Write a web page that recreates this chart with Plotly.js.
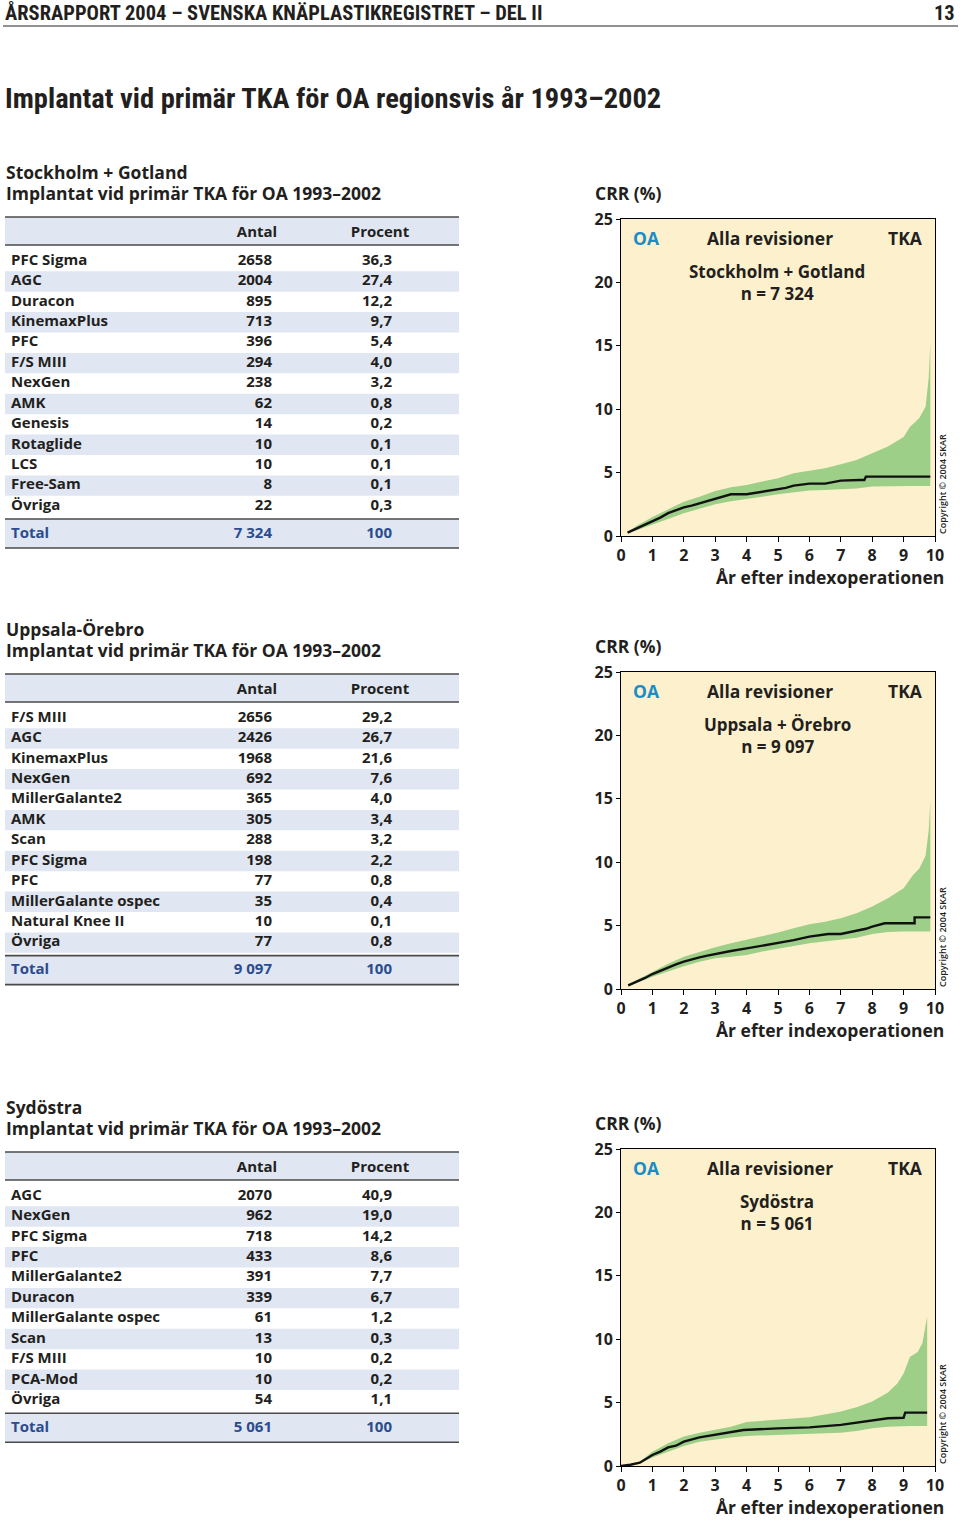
<!DOCTYPE html>
<html><head><meta charset="utf-8">
<script src="https://cdn.plot.ly/plotly-3.0.1.min.js"></script>
<style>html,body{margin:0;padding:0;background:#fff}</style>
</head><body>
<div id="chart" style="width:960px;height:1520px"></div>
<script>
// ---------------- DATA ----------------
const pageHeader = "ÅRSRAPPORT 2004 – SVENSKA KNÄPLASTIKREGISTRET – DEL II";
const pageNumber = "13";
const pageTitle = "Implantat vid primär TKA för OA regionsvis år 1993–2002";
const tableSubtitle = "Implantat vid primär TKA för OA 1993–2002";
const colHeaders = ["Antal", "Procent"];
const totalLabel = "Total";

const regions = ["Stockholm + Gotland", "Uppsala-Örebro", "Sydöstra"];
const chartRegions = ["Stockholm + Gotland", "Uppsala + Örebro", "Sydöstra"];

const names1 = ["PFC Sigma","AGC","Duracon","KinemaxPlus","PFC","F/S MIII","NexGen","AMK","Genesis","Rotaglide","LCS","Free-Sam","Övriga"];
const antal1 = [2658,2004,895,713,396,294,238,62,14,10,10,8,22];
const procent1 = [36.3,27.4,12.2,9.7,5.4,4.0,3.2,0.8,0.2,0.1,0.1,0.1,0.3];
const total1 = 7324;

const names2 = ["F/S MIII","AGC","KinemaxPlus","NexGen","MillerGalante2","AMK","Scan","PFC Sigma","PFC","MillerGalante ospec","Natural Knee II","Övriga"];
const antal2 = [2656,2426,1968,692,365,305,288,198,77,35,10,77];
const procent2 = [29.2,26.7,21.6,7.6,4.0,3.4,3.2,2.2,0.8,0.4,0.1,0.8];
const total2 = 9097;

const names3 = ["AGC","NexGen","PFC Sigma","PFC","MillerGalante2","Duracon","MillerGalante ospec","Scan","F/S MIII","PCA-Mod","Övriga"];
const antal3 = [2070,962,718,433,391,339,61,13,10,10,54];
const procent3 = [40.9,19.0,14.2,8.6,7.7,6.7,1.2,0.3,0.2,0.2,1.1];
const total3 = 5061;

// CRR curves (years after index operation, %)
const bandX1 = [0.21,0.5,1,1.5,2,2.5,3,3.5,4,4.5,5,5.5,6,6.5,7,7.5,8,8.5,9,9.2,9.5,9.7,9.8,9.85];
const upper1 = [0.3,0.8,1.5,2.1,2.7,3.1,3.55,3.84,4.03,4.29,4.55,4.95,5.16,5.34,5.66,6.0,6.53,7.05,7.8,8.6,9.3,10.2,12.5,15.2];
const lower1 = [0.2,0.45,0.87,1.35,1.8,2.15,2.5,2.75,2.9,3.1,3.3,3.45,3.58,3.62,3.68,3.75,3.9,3.94,3.95,3.95,3.95,3.95,3.95,3.95];
const lineX1 = [0.21,0.5,0.75,1,1.25,1.5,1.75,2,2.25,2.5,2.75,3,3.25,3.5,4,4.25,4.5,4.75,5,5.25,5.5,5.75,6,6.5,6.8,7,7.6,7.75,7.8,9.85];
const lineY1 = [0.26,0.6,0.9,1.13,1.45,1.8,2.05,2.26,2.4,2.58,2.75,2.95,3.1,3.29,3.29,3.4,3.5,3.6,3.68,3.8,3.97,4.05,4.13,4.13,4.25,4.37,4.42,4.42,4.68,4.68];

const bandX2 = [0.23,0.5,1,1.5,2,2.5,3,3.5,4,4.5,5,5.5,6,6.5,7,7.5,8,8.5,9,9.3,9.5,9.7,9.8,9.85];
const upper2 = [0.35,0.7,1.37,2.0,2.55,2.95,3.29,3.6,3.87,4.15,4.45,4.8,5.1,5.3,5.58,5.97,6.5,7.16,7.95,9.0,9.5,10.5,12.5,14.8];
const lower2 = [0.2,0.5,0.97,1.4,1.8,2.15,2.42,2.55,2.68,2.95,3.2,3.4,3.6,3.75,3.87,4.05,4.34,4.5,4.53,4.53,4.53,4.53,4.53,4.53];
const lineX2 = [0.23,0.5,0.75,1,1.25,1.5,1.75,2,2.25,2.5,2.75,3,3.5,4,4.5,5,5.5,6,6.6,7,7.5,7.8,8,8.4,9.35,9.35,9.85];
const lineY2 = [0.29,0.55,0.85,1.18,1.45,1.7,1.95,2.16,2.35,2.5,2.63,2.76,3.0,3.2,3.42,3.6,3.85,4.13,4.34,4.34,4.6,4.75,4.92,5.18,5.18,5.65,5.65];

const bandX3 = [0,0.3,0.6,1,1.5,2,2.5,3,3.5,4,5,6,7,7.5,8,8.5,8.8,9,9.2,9.45,9.6,9.75];
const upper3 = [0,0.1,0.34,1.13,1.79,2.32,2.63,2.84,3.1,3.47,3.68,3.84,4.29,4.63,5.08,5.79,6.5,7.3,8.6,9.0,9.7,11.8];
const lower3 = [0,0.05,0.2,0.68,1.13,1.58,1.92,2.1,2.25,2.37,2.45,2.53,2.63,2.76,2.97,3.1,3.14,3.16,3.16,3.16,3.16,3.16];
const lineX3 = [0,0.3,0.6,0.75,1,1.25,1.5,1.75,2,2.5,3,3.5,3.9,5,6,7,7.3,7.5,8,8.5,9.0,9.05,9.75];
const lineY3 = [0,0.1,0.26,0.5,0.87,1.13,1.47,1.6,1.92,2.26,2.45,2.63,2.84,2.97,3.05,3.24,3.35,3.42,3.63,3.76,3.8,4.21,4.21];

const xTickVals = [0,1,2,3,4,5,6,7,8,9,10];
const yTickVals = [0,5,10,15,20,25];
const yLabel = "CRR (%)";
const xLabel = "År efter indexoperationen";
const chartTags = ["OA", "Alla revisioner", "TKA"];
const copyright = "Copyright © 2004 SKAR";

// ---------------- STYLE / LAYOUT ----------------
const W = 960, H = 1520;
const FONT = "Open Sans, Noto Sans, DejaVu Sans, sans-serif";
const NARROW = "Liberation Sans Narrow, Roboto Condensed, DejaVu Sans Condensed, sans-serif";
const TXT = "#231f20";
const BLUE_T = "#2c4c8e";
const SHADE = "#e0e6f2";
const RULE = "#4a4a4a";
const CREAM = "#fdf0cd";
const GREEN = "#9dcf88";
const OA_BLUE = "#1a8cc6";

const fmtN = n => String(n).replace(/\B(?=(\d{3})+(?!\d))/g, " ");
const fmtP = p => p.toFixed(1).replace(".", ",");

const tables = [
  {T: 217, names: names1, antal: antal1, procent: procent1, total: total1},
  {T: 674, names: names2, antal: antal2, procent: procent2, total: total2},
  {T: 1152, names: names3, antal: antal3, procent: procent3, total: total3}
];
const charts = [
  {top: 219, bottom: 536, bx: bandX1, up: upper1, lo: lower1, lx: lineX1, ly: lineY1, n: total1},
  {top: 672, bottom: 989, bx: bandX2, up: upper2, lo: lower2, lx: lineX2, ly: lineY2, n: total2},
  {top: 1149, bottom: 1466, bx: bandX3, up: upper3, lo: lower3, lx: lineX3, ly: lineY3, n: total3}
];
const TX0 = 5, TX1 = 459, ROWH = 20.42;
const COL_NAME = 11, COL_ANTAL = 272, COL_PROC = 392, HEAD_ANTAL = 257, HEAD_PROC = 380;
const CX0 = 621, CX1 = 935;

const traces = [];
const shapes = [];
const annotations = [];
const layout = {
  width: W, height: H,
  margin: {l: 0, r: 0, t: 0, b: 0},
  paper_bgcolor: "#ffffff",
  plot_bgcolor: "rgba(0,0,0,0)",
  showlegend: false,
  barmode: "overlay",
  font: {family: FONT, color: TXT},
  xaxis4: {domain: [0, 1], range: [0, W], visible: false, fixedrange: true},
  yaxis4: {domain: [0, 1], range: [H, 0], visible: false, fixedrange: true}
};

function ann(x, y, text, size, opts) {
  annotations.push(Object.assign({
    xref: "x4", yref: "y4", x: x, y: y, text: text, showarrow: false,
    xanchor: "left", yanchor: "middle", borderpad: 0,
    font: {family: FONT, size: size, color: TXT, weight: 700}
  }, opts || {}));
}
function rule(y, w) {
  shapes.push({type: "line", xref: "x4", yref: "y4", x0: TX0, x1: TX1, y0: y, y1: y,
    line: {color: RULE, width: w}});
}

// page header
ann(4, 13, pageHeader, 20.5, {font: {family: NARROW, size: 20.5, color: TXT, weight: 700}});
ann(956, 13, pageNumber, 20.5, {xanchor: "right", font: {family: NARROW, size: 20.5, color: TXT, weight: 700}});
shapes.push({type: "line", xref: "x4", yref: "y4", x0: 3, x1: 958, y0: 26, y1: 26, line: {color: "#222", width: 1}});
ann(4, 98, pageTitle, 28.5, {font: {family: NARROW, size: 28.5, color: TXT, weight: 700}});

// tables
tables.forEach((t, k) => {
  const T = t.T;
  const rows = t.names.map((_, i) => T + 44 + i * ROWH);
  const last = rows[rows.length - 1];
  const totalLine = last + 13, totalY = totalLine + 15, bottom = totalLine + 29;

  ann(5, T - 45, regions[k], 17.5);
  ann(5, T - 24, tableSubtitle, 17.5);

  // shaded bands: header, odd rows, total row
  const shadeY = [T + 14], shadeW = [28];
  rows.forEach((y, i) => { if (i % 2 === 1) { shadeY.push(y); shadeW.push(ROWH); } });
  shadeY.push((totalLine + bottom) / 2); shadeW.push(bottom - totalLine);
  traces.push({type: "bar", orientation: "h", xaxis: "x4", yaxis: "y4",
    y: shadeY, x: shadeY.map(() => TX1 - TX0), base: TX0, width: shadeW,
    marker: {color: SHADE, line: {width: 0}}, hoverinfo: "skip"});

  const tf = {family: FONT, size: 15, color: TXT, weight: 700};
  traces.push({type: "scatter", mode: "text", xaxis: "x4", yaxis: "y4",
    x: rows.map(() => COL_NAME), y: rows, text: t.names, textposition: "middle right",
    textfont: tf, hoverinfo: "skip", cliponaxis: false});
  traces.push({type: "scatter", mode: "text", xaxis: "x4", yaxis: "y4",
    x: rows.map(() => COL_ANTAL), y: rows, text: t.antal.map(String), textposition: "middle left",
    textfont: tf, hoverinfo: "skip", cliponaxis: false});
  traces.push({type: "scatter", mode: "text", xaxis: "x4", yaxis: "y4",
    x: rows.map(() => COL_PROC), y: rows, text: t.procent.map(fmtP), textposition: "middle left",
    textfont: tf, hoverinfo: "skip", cliponaxis: false});
  // header
  traces.push({type: "scatter", mode: "text", xaxis: "x4", yaxis: "y4",
    x: [HEAD_ANTAL, HEAD_PROC], y: [T + 16, T + 16], text: colHeaders, textposition: "middle center",
    textfont: tf, hoverinfo: "skip", cliponaxis: false});
  // total
  const bf = {family: FONT, size: 15, color: BLUE_T, weight: 700};
  traces.push({type: "scatter", mode: "text", xaxis: "x4", yaxis: "y4",
    x: [COL_NAME], y: [totalY], text: [totalLabel], textposition: "middle right",
    textfont: bf, hoverinfo: "skip", cliponaxis: false});
  traces.push({type: "scatter", mode: "text", xaxis: "x4", yaxis: "y4",
    x: [COL_ANTAL, COL_PROC], y: [totalY, totalY], text: [fmtN(t.total), "100"], textposition: "middle left",
    textfont: bf, hoverinfo: "skip", cliponaxis: false});

  rule(T, 1.6); rule(T + 28, 1.6); rule(totalLine, 1.6); rule(bottom, 1.6);
});

// charts
charts.forEach((c, k) => {
  const sx = k === 0 ? "" : String(k + 1);
  const xa = "x" + sx, ya = "y" + sx;
  const tickf = {family: FONT, size: 16, color: TXT, weight: 700};
  layout["xaxis" + sx] = {
    domain: [CX0 / W, CX1 / W], range: [0, 10], anchor: ya,
    tickvals: xTickVals, ticks: "outside", ticklen: 5, tickwidth: 1, tickcolor: "#000",
    showline: true, linecolor: "#000", linewidth: 1, mirror: true, showgrid: false, zeroline: false,
    tickfont: tickf, fixedrange: true
  };
  layout["yaxis" + sx] = {
    domain: [1 - c.bottom / H, 1 - c.top / H], range: [0, 25], anchor: xa,
    tickvals: yTickVals, ticks: "outside", ticklen: 4, tickwidth: 1, tickcolor: "#000",
    showline: true, linecolor: "#000", linewidth: 1, mirror: true, showgrid: false, zeroline: false,
    tickfont: tickf, fixedrange: true
  };
  shapes.push({type: "rect", xref: xa + " domain", yref: ya + " domain", x0: 0, x1: 1, y0: 0, y1: 1,
    fillcolor: CREAM, line: {width: 0}, layer: "below"});
  traces.push({type: "scatter", mode: "lines", xaxis: xa, yaxis: ya, x: c.bx, y: c.lo,
    line: {width: 0, color: GREEN}, hoverinfo: "skip"});
  traces.push({type: "scatter", mode: "lines", xaxis: xa, yaxis: ya, x: c.bx, y: c.up,
    fill: "tonexty", fillcolor: GREEN, line: {width: 0, color: GREEN}, hoverinfo: "skip"});
  traces.push({type: "scatter", mode: "lines", xaxis: xa, yaxis: ya, x: c.lx, y: c.ly,
    line: {width: 2.4, color: "#111"}, hoverinfo: "skip"});

  const cf = {family: FONT, size: 17.5, color: TXT, weight: 700};
  ann(594, c.top - 26, yLabel, 18, {font: cf});
  ann(945, c.bottom + 41, xLabel, 17.5, {xanchor: "right", font: {family: FONT, size: 17.5, color: TXT, weight: 700}});
  ann(646, c.top + 19, chartTags[0], 18, {xanchor: "center", font: {family: FONT, size: 17.5, color: OA_BLUE, weight: 700}});
  ann(770, c.top + 19, chartTags[1], 18, {xanchor: "center", font: cf});
  ann(905, c.top + 19, chartTags[2], 18, {xanchor: "center", font: cf});
  ann(777, c.top + 63, chartRegions[k] + "<br>n = " + fmtN(c.n), 17, {xanchor: "center",
    font: {family: FONT, size: 17, color: TXT, weight: 700}});
  ann(942, c.bottom - 52, copyright, 9, {xanchor: "center", textangle: -90,
    font: {family: FONT, size: 9, color: TXT, weight: 600}});
});

layout.shapes = shapes;
layout.annotations = annotations;
Plotly.newPlot("chart", traces, layout, {staticPlot: true, displayModeBar: false});
</script>
</body></html>
